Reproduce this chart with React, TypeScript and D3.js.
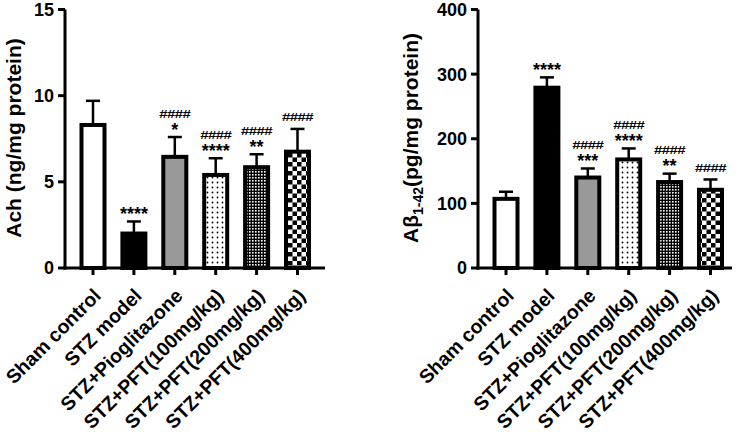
import React from "react";
import * as d3 from "d3";

const categories = [
  "Sham control",
  "STZ model",
  "STZ+Pioglitazone",
  "STZ+PFT(100mg/kg)",
  "STZ+PFT(200mg/kg)",
  "STZ+PFT(400mg/kg)",
];

const achMean = [8.3, 2.0, 6.45, 5.4, 5.85, 6.75];
const achErr = [1.4, 0.7, 1.15, 0.97, 0.75, 1.32];
const achStars = ["", "****", "*", "****", "**", ""];
const achHash = ["", "", "####", "####", "####", "####"];
const achTicks = [0, 5, 10, 15];

const abMean = [107, 279, 140, 168, 133, 121];
const abErr = [11, 16, 14, 17, 13, 16];
const abStars = ["", "****", "***", "****", "**", ""];
const abHash = ["", "", "####", "####", "####", "####"];
const abTicks = [0, 100, 200, 300, 400];

const FONT = "'Liberation Sans', Arial, Helvetica, sans-serif";
const fills = ["#ffffff", "#000000", "#999999", "url(#dots)", "url(#fine)", "url(#checker)"];

type PanelProps = {
  axisX: number;
  axisEnd: number;
  yMax: number;
  ticks: number[];
  means: number[];
  errs: number[];
  stars: string[];
  hashes: string[];
  label: React.ReactNode;
  labelX: number;
};

function Panel(p: PanelProps) {
  const y0 = 268;
  const yTop = 9.5;
  const y = d3.scaleLinear().domain([0, p.yMax]).range([y0, yTop]);
  const x = d3
    .scalePoint<string>()
    .domain(categories)
    .range([p.axisX + 28, p.axisX + 28 + 5 * 40.9]);
  const bw = 23;
  return (
    <g>
      {categories.map((c, i) => {
        const cx = x(c)!;
        const top = y(p.means[i]);
        const et = y(p.means[i] + p.errs[i]);
        const starY = et - 11;
        const hashY = p.stars[i] ? starY - 13 : et - 12;
        const hb = hashY + 4.5;
        return (
          <g key={c}>
            <line x1={cx} x2={cx} y1={top} y2={et} stroke="#000" strokeWidth={2.5} />
            <line x1={cx - 7} x2={cx + 7} y1={et} y2={et} stroke="#000" strokeWidth={2.5} />
            <rect
              x={cx - bw / 2}
              y={top}
              width={bw}
              height={y0 - top}
              fill={fills[i]}
              stroke="#000"
              strokeWidth={4}
            />
            {p.stars[i] && (
              <text
                x={cx}
                y={starY + 9.5}
                textAnchor="middle"
                fontFamily={FONT}
                fontWeight="bold"
                fontSize={18}
              >
                {p.stars[i]}
              </text>
            )}
            {p.hashes[i] && (
              <text
                x={cx}
                y={hb}
                textAnchor="middle"
                fontFamily={FONT}
                fontWeight="bold"
                fontSize={15}
                letterSpacing={-0.6}
                transform={`translate(0 ${hb * 0.25}) scale(1 0.75)`}
              >
                {p.hashes[i]}
              </text>
            )}
            <line x1={cx} x2={cx} y1={y0} y2={y0 + 7} stroke="#000" strokeWidth={3} />
            <text
              transform={`translate(${cx + 9},297) rotate(-45)`}
              textAnchor="end"
              fontFamily={FONT}
              fontWeight="bold"
              fontSize={19.5}
            >
              {c}
            </text>
          </g>
        );
      })}
      <line x1={p.axisX} x2={p.axisX} y1={yTop} y2={y0 + 1.5} stroke="#000" strokeWidth={3} />
      <line x1={p.axisX - 1.5} x2={p.axisEnd} y1={y0} y2={y0} stroke="#000" strokeWidth={3} />
      {p.ticks.map((t) => (
        <g key={t}>
          <line x1={p.axisX - 7} x2={p.axisX} y1={y(t)} y2={y(t)} stroke="#000" strokeWidth={3} />
          <text
            x={p.axisX - 11}
            y={y(t)}
            dy="0.36em"
            textAnchor="end"
            fontFamily={FONT}
            fontWeight="bold"
            fontSize={18}
          >
            {t}
          </text>
        </g>
      ))}
      <text
        transform={`translate(${p.labelX},138) rotate(-90)`}
        textAnchor="middle"
        fontFamily={FONT}
        fontWeight="bold"
        fontSize={21}
      >
        {p.label}
      </text>
    </g>
  );
}

export default function App() {
  return (
    <svg
      width={742}
      height={432}
      style={{ position: "absolute", left: 0, top: 0, background: "#fff" }}
    >
      <defs>
        <pattern id="dots" width={5} height={5} patternUnits="userSpaceOnUse">
          <rect width={5} height={5} fill="#fff" />
          <circle cx={2.5} cy={2.5} r={0.9} fill="#000" />
        </pattern>
        <pattern id="fine" width={3} height={3} patternUnits="userSpaceOnUse">
          <rect width={3} height={3} fill="#000" />
          <rect x={0} y={0} width={1.6} height={1.6} fill="#fff" />
        </pattern>
        <pattern id="checker" width={9} height={9} patternUnits="userSpaceOnUse">
          <rect width={9} height={9} fill="#fff" />
          <rect x={0} y={0} width={4.5} height={4.5} fill="#000" />
          <rect x={4.5} y={4.5} width={4.5} height={4.5} fill="#000" />
        </pattern>
      </defs>
      <Panel
        axisX={65}
        axisEnd={325}
        yMax={15}
        ticks={achTicks}
        means={achMean}
        errs={achErr}
        stars={achStars}
        hashes={achHash}
        label="Ach (ng/mg protein)"
        labelX={21}
      />
      <Panel
        axisX={478}
        axisEnd={732}
        yMax={400}
        ticks={abTicks}
        means={abMean}
        errs={abErr}
        stars={abStars}
        hashes={abHash}
        label={
          <>
            Aβ
            <tspan fontSize={14} dy={5}>
              1-42
            </tspan>
            <tspan dy={-5}>(pg/mg protein)</tspan>
          </>
        }
        labelX={418}
      />
    </svg>
  );
}
